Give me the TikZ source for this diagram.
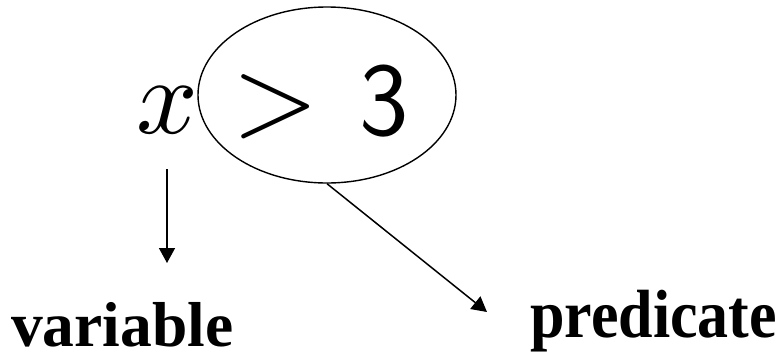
\documentclass[tikz,border=0pt]{standalone}
\usepackage{fontspec}
\newfontfamily\tnr{Liberation Serif}
\usetikzlibrary{arrows.meta,shapes.geometric}
\begin{document}
\begin{tikzpicture}[x=1pt,y=-1pt,
  lbl/.style={font=\tnr\bfseries\fontsize{62}{62}\selectfont, inner sep=0pt, anchor=base west},
  glyph/.style={inner sep=0pt, anchor=base},
  conn/.style={line width=1.5pt, -{Triangle[length=15pt,width=16pt]}}]
\useasboundingbox (0,0) rectangle (782,357);
\node[ellipse, draw, line width=1.4pt, minimum width=258pt, minimum height=176pt, inner sep=0pt] (pred) at (327,95) {};
\node[glyph, font=\fontsize{10}{10}\selectfont, scale=10.8] (xv) at (167,133) {$x$};
\node[glyph, font=\fontsize{10}{10}\selectfont, scale=11.1] (gt) at (276,134) {$>$};
\node[glyph, font=\sffamily\fontsize{105}{105}\selectfont] (three) at (384,135) {3};
\node[lbl, font=\tnr\bfseries\fontsize{63.5}{63.5}\selectfont] (var) at (11,346) {variable};
\node[lbl, yscale=1.1] (prd) at (530,337) {predicate};
\coordinate (vtip) at (167,263);
\coordinate (ptip) at (487,312);
\draw[conn, shorten <=34pt] (xv.south) -- (vtip);
\draw[conn] (pred.south) -- (ptip);
\end{tikzpicture}
\end{document}
